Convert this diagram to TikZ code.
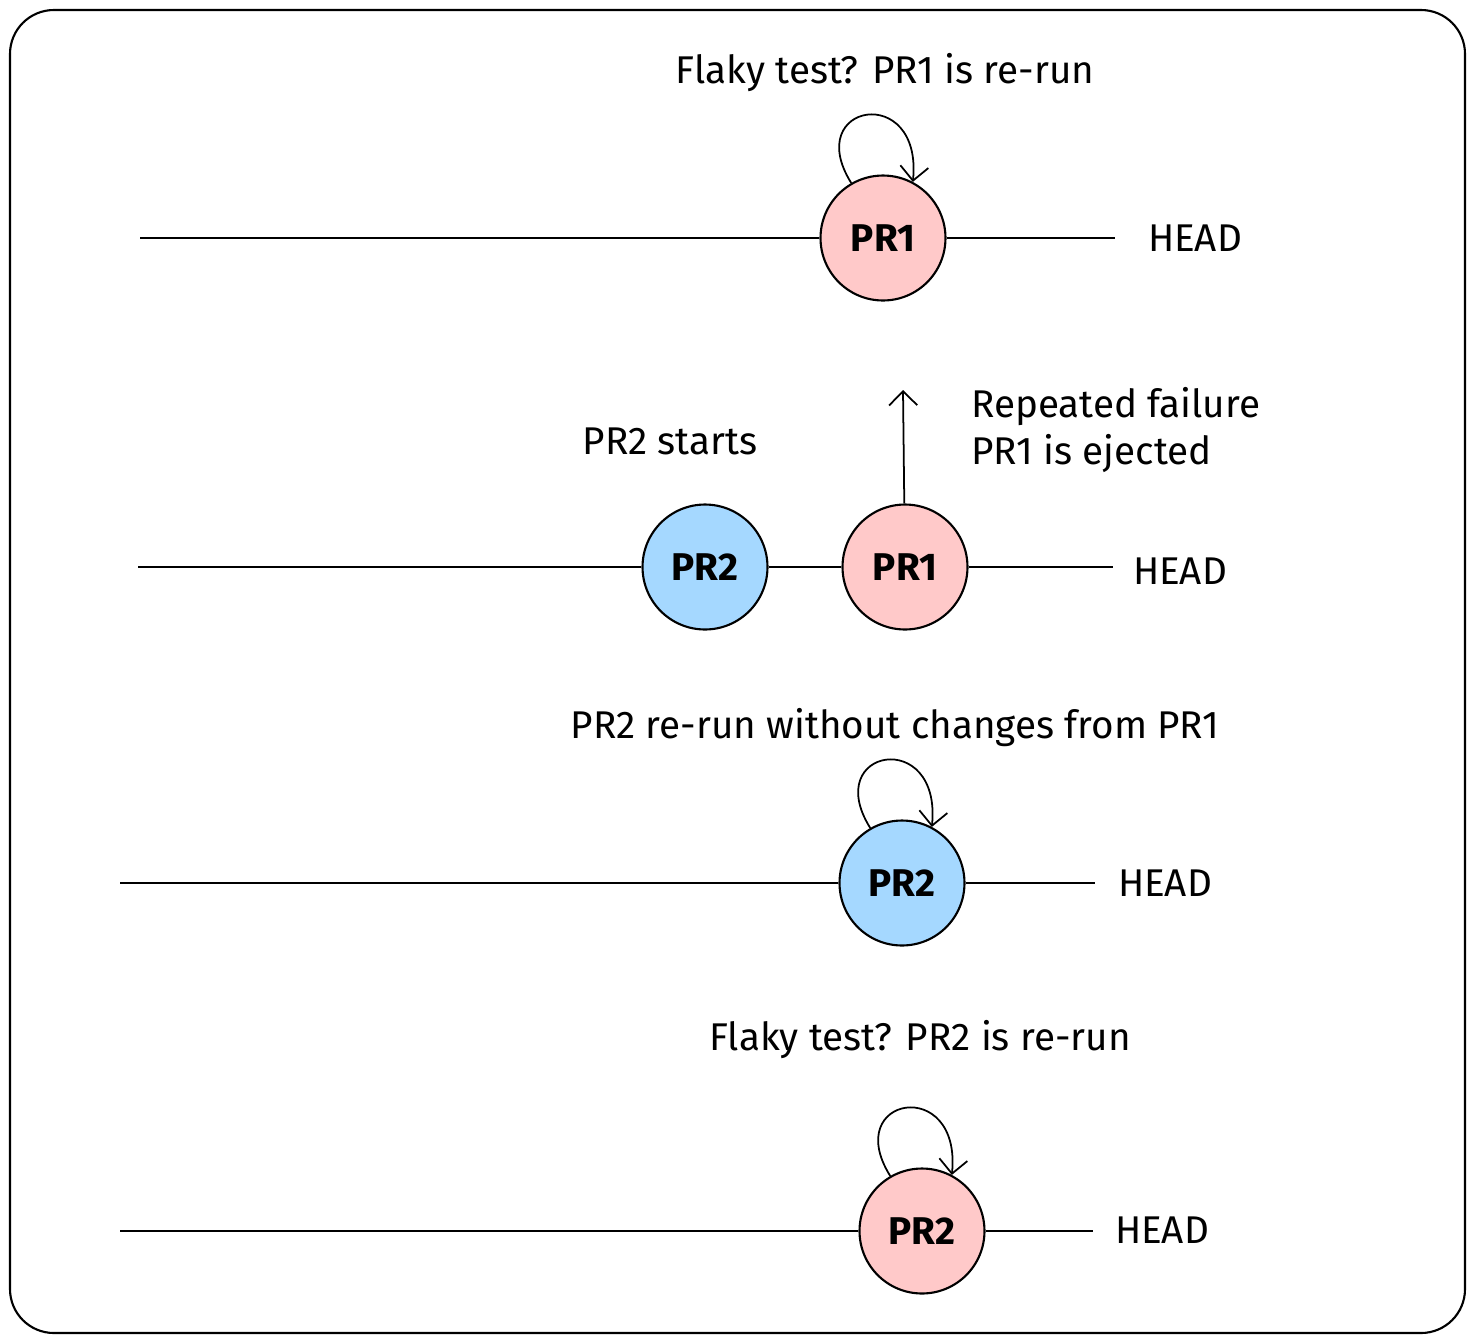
\documentclass[tikz,border=0pt]{standalone}
\usepackage{fontspec}
\setmainfont{Fira Sans}
\usetikzlibrary{arrows.meta}

\definecolor{prred}{HTML}{FFC9C9}
\definecolor{prblue}{HTML}{A5D8FF}

\tikzset{
	pr/.style={draw, circle, line width=1.2pt, minimum size=2.5cm, inner sep=0pt, font=\fontsize{22}{24}\selectfont\bfseries},
	track/.style={line width=1.2pt},
	loop/.style={line width=1pt, -{Straight Barb[length=8pt]}},
	lbl/.style={font=\fontsize{22}{27}\selectfont},
}

\begin{document}
\begin{tikzpicture}[x=0.02cm, y=-0.02cm]

\path [use as bounding box] (0,0) rectangle (1475,1343);

% FRAME
\draw [line width=1.2pt, rounded corners=25] (10,10) rectangle (1465,1333);

% ROW 1
\node [pr, fill=prred] (pra) at (883,238) {PR1};
\coordinate (a0) at (140,238);
\coordinate (a1) at (1115,238);
\node [lbl] (heada) at (1195,238) {HEAD};
\draw [track] (a0) -- (pra) -- (a1);
\draw [loop] (pra.120) .. controls +(-50,-80) and +(10,-100) .. (pra.62);
\node [lbl] (txta) at (885,73) {Flaky test? PR1 is re-run};

% ROW 2
\node [pr, fill=prblue] (prb) at (705,567) {PR2};
\node [pr, fill=prred] (prc) at (905,567) {PR1};
\coordinate (b0) at (138,567);
\coordinate (b1) at (1113,567);
\coordinate (up) at (903,390);
\node [lbl] (headb) at (1180,571) {HEAD};
\draw [track] (b0) -- (prb) -- (prc) -- (b1);
\draw [loop] (prc) -- (up);
\node [lbl] (txtb) at (670,441) {PR2 starts};
\node [lbl, anchor=west, align=left] (txtc) at (965,430) {Repeated failure\\PR1 is ejected};

% ROW 3
\node [pr, fill=prblue] (prd) at (902,883) {PR2};
\coordinate (c0) at (120,883);
\coordinate (c1) at (1095,883);
\node [lbl] (headc) at (1165,883) {HEAD};
\draw [track] (c0) -- (prd) -- (c1);
\draw [loop] (prd.120) .. controls +(-50,-80) and +(10,-100) .. (prd.62);
\node [lbl] (txtd) at (895,728) {PR2 re-run without changes from PR1};

% ROW 4
\node [pr, fill=prred] (pre) at (922,1231) {PR2};
\coordinate (d0) at (120,1231);
\coordinate (d1) at (1093,1231);
\node [lbl] (headd) at (1162,1230) {HEAD};
\draw [track] (d0) -- (pre) -- (d1);
\draw [loop] (pre.120) .. controls +(-50,-80) and +(10,-100) .. (pre.62);
\node [lbl] (txte) at (920,1040) {Flaky test? PR2 is re-run};

\end{tikzpicture}
\end{document}
